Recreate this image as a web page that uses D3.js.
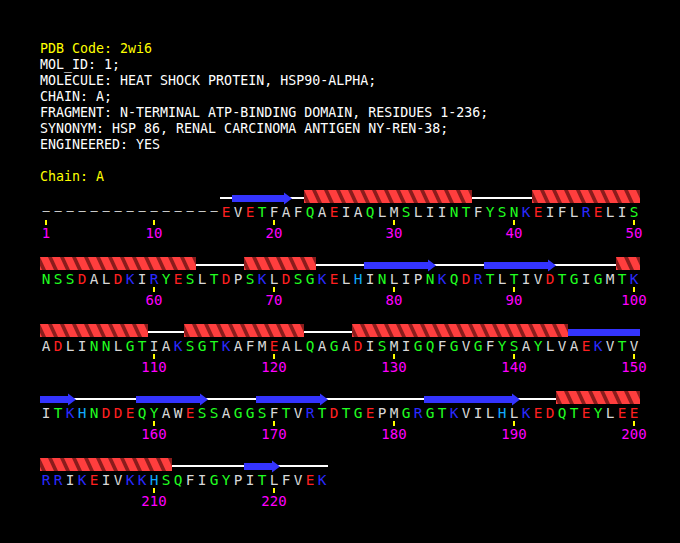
<!DOCTYPE html>
<meta charset="utf-8">
<style>
body{
    margin:0;
    background:#000;
}
text{
    font-family:"DejaVu Sans Mono", monospace;
}
.header{
    font-size:13.3px;
    fill:#fff;
}
.res{
    font-size:14.4px;
    text-anchor:middle;
}
.num{
    font-size:14px;
    fill:#ff00ff;
    text-anchor:middle;
}
.tick{
    stroke:#ffff00;
    stroke-width:2px;
}
.coil{
    stroke:#fff;
    stroke-width:2px;
}
</style>
<body>
<script src="https://d3js.org/d3.v7.min.js"></script>
<script>
// header text
var headerLines = [
    "PDB Code: 2wi6",
    "MOL_ID: 1;",
    "MOLECULE: HEAT SHOCK PROTEIN, HSP90-ALPHA;",
    "CHAIN: A;",
    "FRAGMENT: N-TERMINAL ATP-BINDING DOMAIN, RESIDUES 1-236;",
    "SYNONYM: HSP 86, RENAL CARCINOMA ANTIGEN NY-REN-38;",
    "ENGINEERED: YES"
];
var chainLabel = "Chain: A";

// sequence, '-' = residue not in the model
var sequence = "---------------EVETFAFQAEIAQLMSLIINTFYSNKEIFLRELIS" +
               "NSSDALDKIRYESLTDPSKLDSGKELHINLIPNKQDRTLTIVDTGIGMTK" +
               "ADLINNLGTIAKSGTKAFMEALQAGADISMIGQFGVGFYSAYLVAEKVTV" +
               "ITKHNDDEQYAWESSAGGSFTVRTDTGEPMGRGTKVILHLKEDQTEYLEE" +
               "RRIKEIVKKHSQFIGYPITLFVEK";
var firstModelled = 16;

// secondary structure, [start, end] residue numbers
var helices = [[23,36],[42,63],[68,73],[99,109],[113,122],[127,144],[194,211]];
var strands = [[17,21],[78,83],[88,93],[145,153],[159,164],[169,174],[183,190],[218,220]];

// numbered residues
var tickResidues = [1,10,20,30,40,50,60,70,80,90,100,110,120,130,140,150,160,170,180,190,200,210,220];

var perRow = 50;
var nRes = sequence.length;
var nRows = Math.ceil(nRes/perRow);

var resColor = d3.scaleOrdinal()
    .domain(["D","E","K","R","H","S","T","N","Q","G","Y","C"])
    .range(["#ff2020","#ff2020","#2a2aff","#2a2aff","#10a8ff",
            "#20ff20","#20ff20","#20ff20","#20ff20","#20ff20","#20ff20","#20ff20"])
    .unknown("#d8d8d8");

var x = d3.scaleLinear().domain([0, perRow-1]).range([46, 634]);
var y = d3.scalePoint().domain(d3.range(nRows)).range([212, 480]);
var half = (x(1)-x(0))/2;

function col(i){ return (i-1)%perRow; }
function row(i){ return Math.floor((i-1)/perRow); }

// split a residue range into one piece per row
function pieces(range){
    var out = [];
    var s = range[0];
    while(s <= range[1]){
        var r = row(s);
        var e = Math.min(range[1], (r+1)*perRow);
        out.push({r:r, s:s, e:e, last: e==range[1]});
        s = e+1;
    }
    return out;
}

var svg = d3.select("body").append("svg").attr("width", 680).attr("height", 543);
svg.append("rect").attr("width",680).attr("height",543).attr("fill","#000");

svg.selectAll("text.header").data(headerLines).enter().append("text")
    .attr("class","header")
    .attr("x",40).attr("y",(d,i)=>53+16*i)
    .style("fill",(d,i)=>i==0 ? "#ffff00" : "#fff")
    .text(d=>d);

svg.append("text").attr("class","header")
    .attr("x",40).attr("y",181)
    .style("fill","#ffff00")
    .text(chainLabel);

// coil line under the modelled residues
var coil = svg.append("g");
coil.selectAll("line").data(pieces([firstModelled, nRes])).enter().append("line")
    .attr("class","coil")
    .attr("x1",d=>x(col(d.s))-half).attr("x2",d=>x(col(d.e))+half)
    .attr("y1",d=>y(d.r)-14).attr("y2",d=>y(d.r)-14);

// helices
var defs = svg.append("defs");
var helixPieces = [];
helices.forEach(h=>pieces(h).forEach(p=>helixPieces.push(p)));

helixPieces.forEach(function(p, k){
    var x0 = x(col(p.s))-half, x1 = x(col(p.e))+half;
    var top = y(p.r)-22, bot = y(p.r)-9;
    defs.append("clipPath").attr("id","hc"+k)
        .append("rect").attr("x",x0).attr("y",top).attr("width",x1-x0).attr("height",bot-top);
    var g = svg.append("g").attr("clip-path","url(#hc"+k+")");
    g.append("rect").attr("x",x0).attr("y",top).attr("width",x1-x0).attr("height",bot-top)
        .attr("fill","#8a1c1c");
    var starts = d3.range(x0-12, x1, 12);
    g.selectAll("polygon").data(starts).enter().append("polygon")
        .attr("fill","#ff3e3e")
        .attr("points",s=>[[s,top],[s+8,top],[s+14,bot],[s+6,bot]].join(" "));
});

// strands
var strandPieces = [];
strands.forEach(s=>pieces(s).forEach(p=>strandPieces.push(p)));

svg.append("g").selectAll("path").data(strandPieces).enter().append("path")
    .attr("fill","#3434ff")
    .attr("d",function(p){
        var x0 = x(col(p.s))-half, x1 = x(col(p.e))+half;
        var cy = y(p.r)-13.5;
        if(!p.last){
            return "M"+x0+","+(cy-3.5)+"H"+x1+"V"+(cy+3.5)+"H"+x0+"Z";
        }
        var hx = x1-8;
        return "M"+x0+","+(cy-3.5)+"H"+hx+"V"+(cy-6)+"L"+x1+","+cy+
               "L"+hx+","+(cy+6)+"V"+(cy+3.5)+"H"+x0+"Z";
    });

// residue letters ('-' shown as a wider dash)
var residues = sequence.split("").map((c,i)=>({n:i+1, aa:c}));
svg.append("g").selectAll("text").data(residues).enter().append("text")
    .attr("class","res")
    .attr("x",d=>x(col(d.n)))
    .attr("y",d=>y(row(d.n))+(d.aa=="-" ? 3 : 5))
    .style("fill",d=>resColor(d.aa))
    .style("font-size",d=>d.aa=="-" ? "12px" : null)
    .text(d=>d.aa=="-" ? "\u2013" : d.aa);

// residue numbers
var ticks = svg.append("g");
ticks.selectAll("line").data(tickResidues).enter().append("line")
    .attr("class","tick")
    .attr("x1",d=>x(col(d))).attr("x2",d=>x(col(d)))
    .attr("y1",d=>y(row(d))+8).attr("y2",d=>y(row(d))+13);
ticks.selectAll("text").data(tickResidues).enter().append("text")
    .attr("class","num")
    .attr("x",d=>x(col(d)))
    .attr("y",d=>y(row(d))+26)
    .text(d=>d);
</script>
</body>
</html>
